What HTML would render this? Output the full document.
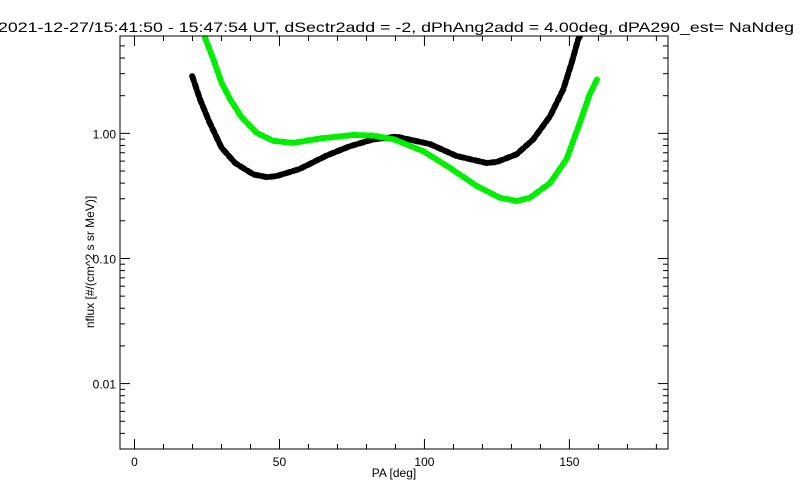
<!DOCTYPE html>
<html><head><meta charset="utf-8"><style>
body{margin:0;background:#fff}
svg{display:block;font-family:"Liberation Sans",sans-serif}
</style></head><body>
<svg id="chart" width="800" height="500" viewBox="0 0 800 500" xmlns="http://www.w3.org/2000/svg">
<rect width="800" height="500" fill="#fff"/>
<text x="-2" y="32" font-size="14" textLength="796" lengthAdjust="spacingAndGlyphs" fill="#000">2021-12-27/15:41:50 - 15:47:54 UT, dSectr2add = -2, dPhAng2add = 4.00deg, dPA290_est=   NaNdeg</text>
<defs><clipPath id="plotclip"><rect x="120" y="36" width="548" height="413"/></clipPath></defs>
<g id="axes"></g>
<g id="series" clip-path="url(#plotclip)"></g>
<rect x="120" y="36" width="548" height="413" fill="none" stroke="#000" stroke-width="1"/>
<text x="394" y="477" font-size="12" text-anchor="middle">PA [deg]</text>
<text transform="translate(94,262) rotate(-90)" font-size="12" text-anchor="middle">nflux [#/(cm^2 s sr MeV)]</text>
</svg>
<script>
const xTicks = [0, 50, 100, 150];
const yTicks = [0.01, 0.1, 1];
const yTickLabels = ["0.01", "0.10", "1.00"];
const blackPA = [19.9, 22.6, 25.7, 30, 34.7, 41, 45.6, 49, 57, 66, 74.3, 82.3, 90.4, 101.9, 111, 121.4, 124.9, 131.8, 137.5, 143.3, 147.9, 150.8, 153, 155];
const blackFlux = [2.87, 1.87, 1.25, 0.77, 0.58, 0.47, 0.447, 0.455, 0.52, 0.66, 0.79, 0.895, 0.94, 0.82, 0.66, 0.58, 0.59, 0.68, 0.895, 1.37, 2.25, 3.68, 5.6, 7.0];
const greenPA = [24.3, 27.2, 30, 33, 37, 42.1, 47.9, 54.8, 64, 75.4, 82.3, 89.5, 99.6, 108.8, 118, 126, 131.8, 136.4, 143.3, 149, 153.6, 157, 159.5];
const greenFlux = [5.8, 3.9, 2.54, 1.87, 1.34, 1.01, 0.87, 0.84, 0.91, 0.97, 0.96, 0.895, 0.72, 0.53, 0.38, 0.306, 0.288, 0.306, 0.40, 0.62, 1.22, 2.05, 2.7];

const X0=120, X1=668, Y0=36, Y1=449, XMIN=-5, XMAX=184, YMIN=0.003, YMAX=6;
const NS="http://www.w3.org/2000/svg";
function sx(v){return X0+(v-XMIN)/(XMAX-XMIN)*(X1-X0);}
function sy(v){return Y1-(Math.log10(v)-Math.log10(YMIN))/(Math.log10(YMAX)-Math.log10(YMIN))*(Y1-Y0);}
function mk(tag,attrs,parent){const e=document.createElementNS(NS,tag);for(const k in attrs)e.setAttribute(k,attrs[k]);parent.appendChild(e);return e;}
const axes=document.getElementById('axes');
// x ticks
for(let v=0;v<=180;v+=10){
  const major=v%50===0, len=major?10:5, x=sx(v);
  const t1=mk('line',{x1:x,x2:x,y1:Y1,y2:Y1-len,stroke:'#000'},axes);
  
  
  const t2=mk('line',{x1:x,x2:x,y1:Y0,y2:Y0+len,stroke:'#000'},axes);
  
  
}
xTicks.forEach(v=>{
  const t=mk('text',{x:sx(v),y:466,'font-size':12,'text-anchor':'middle'},axes);
  t.textContent=String(v);
  
  
});
// y ticks
for(let d=-3;d<=0;d++){
  for(let m=1;m<=9;m++){
    const v=m*Math.pow(10,d);
    if(v<YMIN||v>YMAX)continue;
    const y=sy(v), len=m===1?10:5;
    const a=mk('line',{x1:X0,x2:X0+len,y1:y,y2:y,stroke:'#000'},axes);
    
    
    const b=mk('line',{x1:X1,x2:X1-len,y1:y,y2:y,stroke:'#000'},axes);
    
    
  }
}
yTicks.forEach((v,i)=>{
  const t=mk('text',{x:116,y:sy(v)+5,'font-size':12,'text-anchor':'end'},axes);
  t.textContent=yTickLabels[i];
  
  
});
const series=document.getElementById('series');
function drawSeries(xs,ys,color,name){
  const pts=xs.map((x,i)=>sx(x).toFixed(1)+','+sy(ys[i]).toFixed(1)).join(' ');
  const p=mk('polyline',{points:pts,fill:'none',stroke:color,'stroke-width':6,'stroke-dasharray':'5 3','stroke-linecap':'round','stroke-linejoin':'round'},series);
  
  
}
drawSeries(blackPA,blackFlux,'#000','black-flux-series');
drawSeries(greenPA,greenFlux,'#00ee00','green-flux-series');
</script>
</body></html>
